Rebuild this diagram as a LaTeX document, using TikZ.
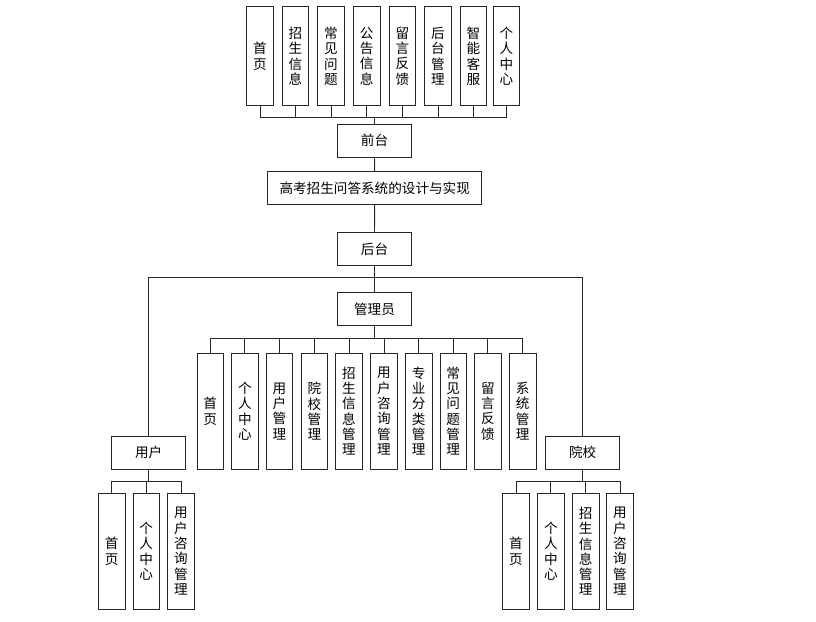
\documentclass[tikz,border=0pt]{standalone}
\usepackage{fontspec}
\setmainfont{Noto Sans CJK SC}
\begin{document}
\begin{tikzpicture}[x=1pt,y=-1pt,
  box/.style={draw=black!85,line width=0.9pt,fill=white,rectangle,inner sep=0pt,align=center,
    font=\fontsize{13.6}{15.3}\selectfont},
  vtop/.style={box,minimum width=26.5pt,minimum height=99pt},
  vadm/.style={box,minimum width=26.5pt,minimum height=115.7pt},
  vsub/.style={box,minimum width=26.5pt,minimum height=116pt},
  hbox/.style={box,minimum width=74.4pt,minimum height=33pt},
  conn/.style={draw=black!85,line width=0.9pt}]
\useasboundingbox (0,0) rectangle (816,621);
% top children
\node[vtop] (t1) at (260,56.2) {首\\页};
\node[vtop] (t2) at (295.5,56.2) {招\\生\\信\\息};
\node[vtop] (t3) at (331,56.2) {常\\见\\问\\题};
\node[vtop] (t4) at (366.7,56.2) {公\\告\\信\\息};
\node[vtop] (t5) at (402.3,56.2) {留\\言\\反\\馈};
\node[vtop] (t6) at (438,56.2) {后\\台\\管\\理};
\node[vtop] (t7) at (473.5,56.2) {智\\能\\客\\服};
\node[vtop] (t8) at (506.3,56.2) {个\\人\\中\\心};
\node[hbox] (qt) at (374.5,140.7) {前台};
\node[box,minimum width=214pt,minimum height=32.6pt] (main) at (374.7,188) {高考招生问答系统的设计与实现};
\node[hbox] (ht) at (374.5,248.9) {后台};
\node[hbox] (gl) at (374.5,309.4) {管理员};
% admin children
\node[vadm] (a1) at (210.2,411.2) {首\\页};
\node[vadm] (a2) at (244.9,411.2) {个\\人\\中\\心};
\node[vadm] (a3) at (279.5,411.2) {用\\户\\管\\理};
\node[vadm] (a4) at (314.4,411.2) {院\\校\\管\\理};
\node[vadm] (a5) at (349,411.2) {招\\生\\信\\息\\管\\理};
\node[vadm] (a6) at (384,411.2) {用\\户\\咨\\询\\管\\理};
\node[vadm] (a7) at (418.7,411.2) {专\\业\\分\\类\\管\\理};
\node[vadm] (a8) at (453.2,411.2) {常\\见\\问\\题\\管\\理};
\node[vadm] (a9) at (487.9,411.2) {留\\言\\反\\馈};
\node[vadm] (a10) at (522.7,411.2) {系\\统\\管\\理};
% user / school
\node[hbox] (user) at (148.7,452.5) {用户};
\node[hbox] (sch) at (582.7,452.5) {院校};
\node[vsub] (u1) at (111.7,551.3) {首\\页};
\node[vsub] (u2) at (146.2,551.3) {个\\人\\中\\心};
\node[vsub] (u3) at (181,551.3) {用\\户\\咨\\询\\管\\理};
\node[vsub] (s1) at (516,551.3) {首\\页};
\node[vsub] (s2) at (550.9,551.3) {个\\人\\中\\心};
\node[vsub] (s3) at (585.7,551.3) {招\\生\\信\\息\\管\\理};
\node[vsub] (s4) at (620,551.3) {用\\户\\咨\\询\\管\\理};
% bus coordinates
\coordinate (tb) at (374.5,117.7);
\coordinate (hb) at (374.5,277.7);
\coordinate (ab) at (374.5,338.3);
\coordinate (ub) at (148.7,481.7);
\coordinate (sb) at (582.7,481.7);
% connectors
\foreach \i in {1,...,8} \draw[conn] (t\i.south) |- (tb);
\draw[conn] (tb) -- (qt.north);
\draw[conn] (qt.south) -- (main.north);
\draw[conn] (main.south) -- (ht.north);
\draw[conn] (ht.south) -- (gl.north);
\draw[conn] (hb) -| (user.north);
\draw[conn] (hb) -| (sch.north);
\draw[conn] (gl.south) -- (ab);
\foreach \i in {1,...,10} \draw[conn] (a\i.north) |- (ab);
\draw[conn] (user.south) -- (ub);
\foreach \i in {1,2,3} \draw[conn] (u\i.north) |- (ub);
\draw[conn] (sch.south) -- (sb);
\foreach \i in {1,...,4} \draw[conn] (s\i.north) |- (sb);
\end{tikzpicture}
\end{document}
